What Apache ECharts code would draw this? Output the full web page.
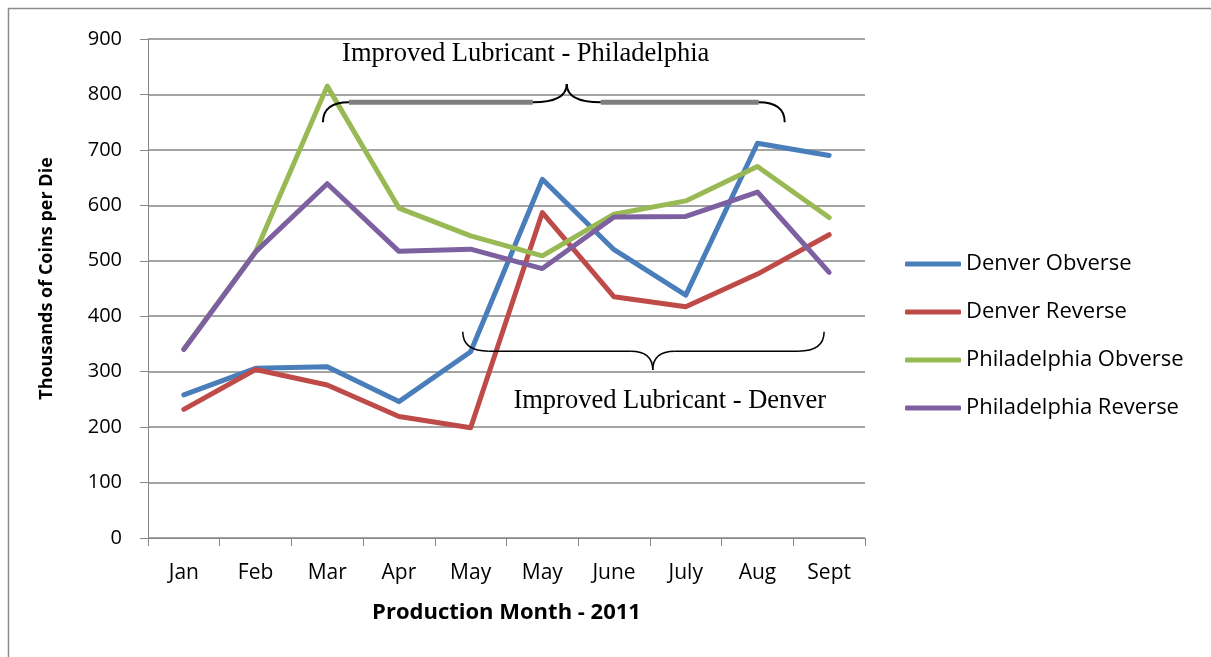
<!DOCTYPE html>
<html>
<head>
<meta charset="utf-8">
<title>Thousands of Coins per Die - 2011</title>
<script src="https://cdn.jsdelivr.net/npm/echarts@6/dist/echarts.min.js"></script>
<style>
  html, body { margin: 0; padding: 0; background: #fff; }
  #chart { width: 1211px; height: 657px; }
</style>
</head>
<body>
<div id="chart"></div>
<script>
// Production months (May appears twice: before and after the lubricant change)
const months = ['Jan', 'Feb', 'Mar', 'Apr', 'May', 'May', 'June', 'July', 'Aug', 'Sept'];

// Thousands of coins struck per die
const denverObverse       = [258, 306, 309, 246, 336, 647, 520, 438, 712, 690];
const denverReverse       = [232, 304, 276, 219, 199, 587, 435, 417, 476, 547];
const philadelphiaObverse = [341, 516, 815, 595, 545, 509, 584, 608, 670, 578];
const philadelphiaReverse = [340, 516, 639, 517, 521, 486, 579, 580, 624, 479];

const yTicks = { min: 0, max: 900, interval: 100 };

// Brace annotations: [category position, value] anchors
const phillyBrace = { left: [1.94, 750], line: 786, tip: [5.34, 819], right: [8.38, 750], r: 26, rt: 34 };
const denverBrace = { left: [3.89, 372], line: 337, tip: [6.54, 303], right: [8.93, 372], r: 26, rt: 22 };

const uiFont = '"Open Sans", sans-serif';
const serifFont = '"Liberation Serif", "DejaVu Serif", serif';

const chart = echarts.init(document.getElementById('chart'), null, { renderer: 'canvas' });

function lineSeries(name, data, color) {
  return {
    name, type: 'line', data,
    symbol: 'none',
    lineStyle: { color, width: 5, cap: 'round', join: 'round' },
    itemStyle: { color },
    z: 3
  };
}

chart.setOption({
  animation: false,
  backgroundColor: '#fff',
  grid: { left: 148, top: 39, right: 346, bottom: 119 },
  legend: {
    orient: 'vertical',
    left: 900,
    top: 248,
    itemWidth: 56,
    itemHeight: 5,
    itemGap: 26,
    icon: 'roundRect',
    textStyle: { fontFamily: uiFont, fontSize: 22, color: '#000' },
    data: ['Denver Obverse', 'Denver Reverse', 'Philadelphia Obverse', 'Philadelphia Reverse']
  },
  xAxis: {
    type: 'category',
    data: months,
    boundaryGap: true,
    name: 'Production Month - 2011',
    nameLocation: 'middle',
    nameGap: 64,
    nameTextStyle: { fontFamily: uiFont, fontSize: 22, fontWeight: 'bold', color: '#000' },
    axisLine: { show: true, lineStyle: { color: '#868686', width: 1 } },
    axisTick: { show: true, alignWithLabel: false, length: 8, lineStyle: { color: '#868686' } },
    axisLabel: { fontFamily: uiFont, fontSize: 21, color: '#000', margin: 25, interval: 0 },
    splitLine: { show: false }
  },
  yAxis: {
    type: 'value',
    min: yTicks.min, max: yTicks.max, interval: yTicks.interval,
    name: 'Thousands of Coins per Die',
    nameLocation: 'middle',
    nameRotate: 90,
    nameGap: 92,
    nameTextStyle: { fontFamily: uiFont, fontSize: 18, fontWeight: 'bold', color: '#000',
                     padding: [0, 0, 0, 20] },
    axisLine: { show: true, lineStyle: { color: '#868686', width: 1 } },
    axisTick: { show: true, length: 8, lineStyle: { color: '#868686' } },
    axisLabel: { fontFamily: uiFont, fontSize: 20, color: '#000', margin: 26 },
    splitLine: { show: true, lineStyle: { color: '#868686', width: 1.5 } }
  },
  series: [
    lineSeries('Denver Obverse', denverObverse, '#4A7EBB'),
    lineSeries('Denver Reverse', denverReverse, '#BE4B48'),
    lineSeries('Philadelphia Obverse', philadelphiaObverse, '#98B954'),
    lineSeries('Philadelphia Reverse', philadelphiaReverse, '#7D60A0')
  ]
});

// Convert a fractional category position and a value to pixels
function toPx(cat, val) {
  const a = chart.convertToPixel({ xAxisIndex: 0 }, 0);
  const b = chart.convertToPixel({ xAxisIndex: 0 }, 1);
  const y = chart.convertToPixel({ yAxisIndex: 0 }, val);
  return [a + (b - a) * cat, y];
}

// Curly brace built from quadratic curves and straight runs
function braceParts(br, color, width) {
  const L = toPx(br.left[0], br.left[1]);
  const R = toPx(br.right[0], br.right[1]);
  const T = toPx(br.tip[0], br.tip[1]);
  const yl = chart.convertToPixel({ yAxisIndex: 0 }, br.line);
  const r = br.r, rt = br.rt;
  const st = { stroke: color, lineWidth: width, fill: 'none' };
  const curve = (x1, y1, cx, cy, x2, y2) => ({
    type: 'bezierCurve', shape: { x1, y1, x2, y2, cpx1: cx, cpy1: cy },
    style: st, z: 10, silent: true
  });
  const seg = (x1, x2) => ({
    type: 'line', shape: { x1, y1: yl, x2, y2: yl }, style: st, z: 10, silent: true
  });
  return {
    els: [
      curve(L[0], L[1], L[0], yl, L[0] + r, yl),
      seg(L[0] + r, T[0] - rt),
      curve(T[0] - rt, yl, T[0], yl, T[0], T[1]),
      curve(T[0], T[1], T[0], yl, T[0] + rt, yl),
      seg(T[0] + rt, R[0] - r),
      curve(R[0] - r, yl, R[0], yl, R[0], R[1])
    ],
    straight: [[L[0] + r, T[0] - rt], [T[0] + rt, R[0] - r]],
    yl, T
  };
}

const pb = braceParts(phillyBrace, '#000', 2);
const db = braceParts(denverBrace, '#000', 1.5);

const graphics = [
  // outer chart frame
  { type: 'rect', shape: { x: 8.5, y: 8.5, width: 1220, height: 670 },
    style: { fill: 'none', stroke: '#8c8c8c', lineWidth: 1.5 }, silent: true, z: 0 },
  { type: 'text', x: pb.T[0] - 41, y: 54, z: 10,
    style: { text: 'Improved Lubricant - Philadelphia', font: '26.5px ' + serifFont,
             fill: '#000', textAlign: 'center', textVerticalAlign: 'middle' } },
  { type: 'text', x: db.T[0] + 17, y: 401, z: 10,
    style: { text: 'Improved Lubricant - Denver', font: '26.5px ' + serifFont,
             fill: '#000', textAlign: 'center', textVerticalAlign: 'middle' } }
].concat(pb.els, db.els);

// thick grey straight runs of the Philadelphia brace
pb.straight.forEach(function (s) {
  graphics.push({ type: 'line', silent: true, z: 11,
    shape: { x1: s[0], y1: pb.yl, x2: s[1], y2: pb.yl },
    style: { stroke: '#7f7f7f', lineWidth: 5 } });
});

chart.setOption({ graphic: graphics });
</script>
</body>
</html>
